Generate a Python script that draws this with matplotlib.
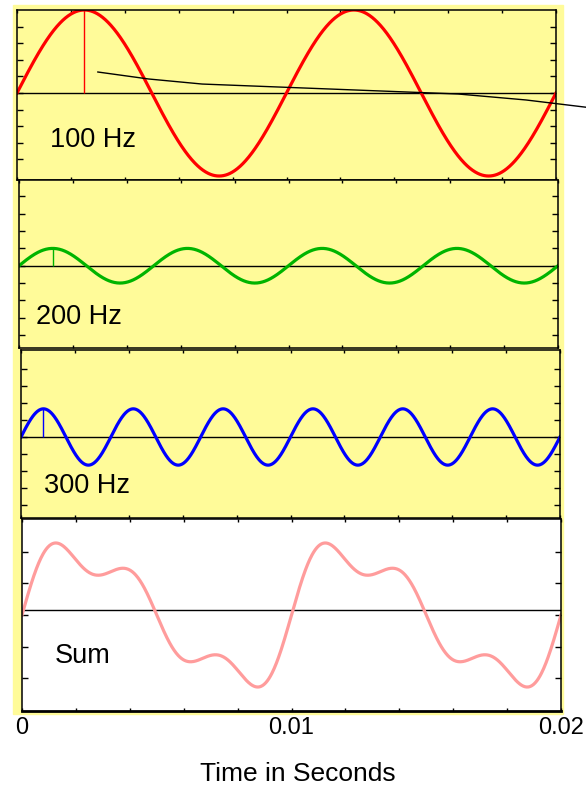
import numpy as np
import matplotlib.pyplot as plt
from matplotlib.patches import Rectangle

plt.rcParams['font.family'] = ['Liberation Sans', 'DejaVu Sans']

# harmonic components
freqs = [100, 200, 300]
amps = [1.0, 0.2, 0.33]
wave_colors = ['#ff0000', '#00b400', '#0000ff']
sum_color = '#ff9c9c'
panel_labels = ['100 Hz', '200 Hz', '300 Hz', 'Sum']

xtick_labels = ['0', '', '', '', '', '0.01', '', '', '', '', '0.02']

# leader line drawn over the 100 Hz panel (time, amplitude)
pointer_t = [0.00300, 0.00488, 0.00687, 0.01637, 0.01889, 0.02136]
pointer_y = [0.253, 0.169, 0.108, -0.012, -0.084, -0.181]

t = np.linspace(0, 0.02, 1001)
waves = [a * np.sin(2 * np.pi * f * t) for f, a in zip(freqs, amps)]
total = waves[0] + waves[1] + waves[2]

W, H = 586, 785
fig = plt.figure(figsize=(W / 100, H / 100), dpi=100)

# yellow backdrop behind the stack of panels
fig.patches.append(Rectangle((13 / W, 1 - 714 / H), 550 / W, 709 / H,
                             transform=fig.transFigure, color='#fffb99', zorder=-5))

boxes = [(17, 10, 556, 180), (19, 180, 558, 348), (21, 350, 560, 518), (22, 519, 561, 711)]
ylims = [(-1.048, 1.0), (-0.95, 0.99), (-0.95, 1.02), (-1.52, 1.52)]
label_pos = [(50, 147), (36, 324), (44, 493), (55, 663)]

axes = []
for i, (l, tp, r, b) in enumerate(boxes):
    ax = fig.add_axes([l / W, 1 - b / H, (r - l) / W, (b - tp) / H])
    ax.set_facecolor('#fffb99' if i < 3 else 'white')
    ax.set_xlim(0, 0.02)
    ax.set_ylim(*ylims[i])
    ax.set_xticks(np.arange(0, 0.0201, 0.002))
    if i < 3:
        ax.set_yticks(np.arange(-0.8, 0.81, 0.2))
        ax.set_xticklabels([])
    else:
        ax.set_yticks([-1, -0.5, 0, 0.5, 1])
        ax.set_xticklabels(xtick_labels, fontsize=17)
    ax.set_yticklabels([])
    ax.tick_params(axis='both', direction='in', top=True, right=True, width=1, color='black')
    ax.tick_params(axis='y', length=4.5)
    ax.tick_params(axis='x', length=2.5, pad=4)
    for s in ax.spines.values():
        s.set_linewidth(1.1)
    axes.append(ax)
axes[3].spines['bottom'].set_linewidth(2)

for i in range(3):
    ax = axes[i]
    ax.axhline(0, color='black', lw=1)
    ax.plot(t, waves[i], color=wave_colors[i], lw=2.3)
    peak_t = 1 / (4 * freqs[i])
    ax.vlines(peak_t, 0, amps[i], color=wave_colors[i], lw=1)

axes[3].axhline(0.08, color='black', lw=1)
axes[3].plot(t, total, color=sum_color, lw=2.3)

axes[0].plot(pointer_t, pointer_y, color='black', lw=1, clip_on=False)

for (x, y), lab in zip(label_pos, panel_labels):
    fig.text(x / W, 1 - y / H, lab, fontsize=19.5, ha='left', va='baseline')

fig.text(298 / W, 1 - 781 / H, 'Time in Seconds', fontsize=19, ha='center', va='baseline')

fig.savefig('out.png', dpi=100)
